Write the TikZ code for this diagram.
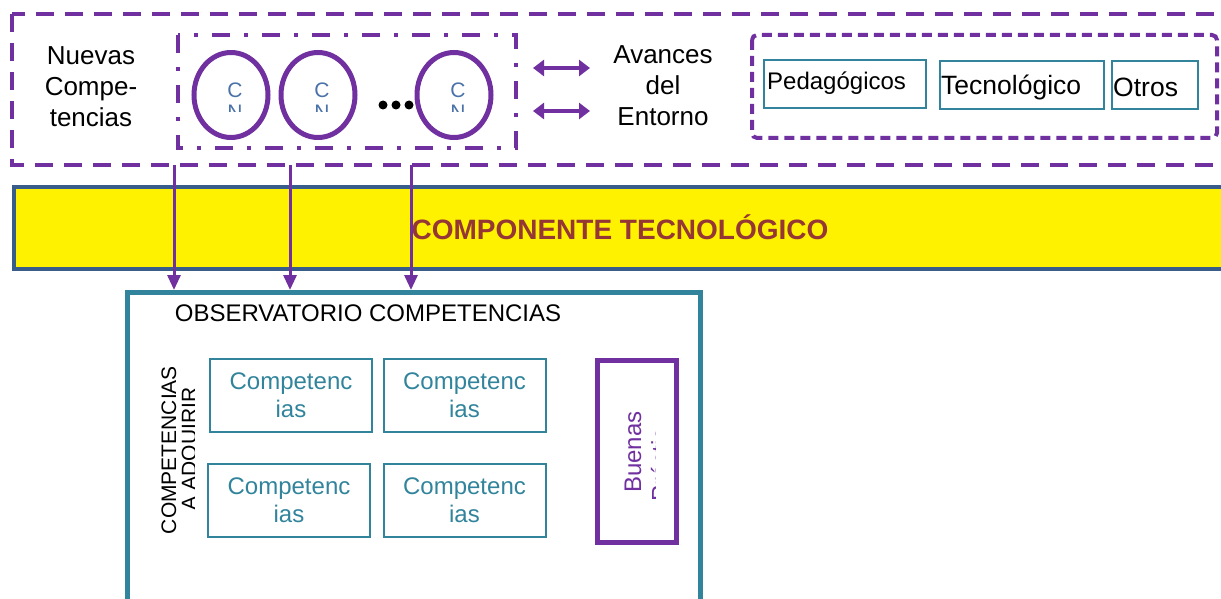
\documentclass[tikz,border=0pt]{standalone}
\usepackage{fontspec}
\setmainfont{Liberation Sans}
\usetikzlibrary{arrows.meta,shapes.geometric}
\definecolor{morado}{HTML}{7030A0}
\definecolor{verdeazul}{HTML}{31849B}
\definecolor{azulosc}{HTML}{385D8A}
\definecolor{rojizo}{HTML}{953735}
\definecolor{azulcn}{HTML}{4A72A8}

\begin{document}
\begin{tikzpicture}[x=1pt, y=-1pt, font=\fontsize{26}{31}\selectfont,
  caja/.style={draw=verdeazul, line width=2pt, inner sep=0pt},
  comp/.style={caja, minimum width=162pt, minimum height=73pt, text=verdeazul,
    align=center, font=\fontsize{24}{28}\selectfont},
  circulo/.style={ellipse, draw=morado, line width=5pt, minimum width=74pt, minimum height=85pt},
  flecha/.style={morado, line width=3pt, -{Triangle[width=13pt,length=15pt]}},
  doble/.style={morado, line width=4pt, {Triangle[width=16pt,length=11pt]}-{Triangle[width=16pt,length=11pt]}}]
  \useasboundingbox (0,0) rectangle (1221,599);
  \clip (0,0) rectangle (1221,599);

  % upper frame
  \draw[morado, line width=4pt, dash pattern=on 18pt off 11pt] (12,14) rectangle (1245,165);
  \node[align=center] (nuevas) at (91,87) {Nuevas\\Compe-\\tencias};
  \draw[morado, line width=4pt, dash pattern=on 18pt off 14pt on 4pt off 14pt] (178,35) rectangle (516,148);

  \foreach \i/\x in {1/231, 2/318, 3/454} {
    \node[circulo] (cn\i) at (\x,95) {};
    \node[text=azulcn, font=\fontsize{21}{24}\selectfont] (c\i) at (\x+4,90) {C};
    \begin{scope}
      \clip (\x-20,100) rectangle (\x+25,112);
      \node[text=azulcn, font=\fontsize{21}{24}\selectfont] (n\i) at (\x+4,112) {N};
    \end{scope}
  }
  \foreach \x in {383,396,409}
    \fill (\x,105) circle (4.5);

  \foreach \i/\y in {1/68, 2/111} {
    \coordinate (da\i) at (533,\y);
    \coordinate (db\i) at (590,\y);
    \draw[doble] (da\i) -- (db\i);
  }
  \node[align=center] (avances) at (663,86) {Avances\\del\\Entorno};

  \draw[morado, line width=4pt, dash pattern=on 10pt off 6pt, rounded corners=5pt] (752,35) rectangle (1217,138);
  \node[caja, minimum width=162pt, minimum height=48pt] (ped) at (845,84) {};
  \node[caja, minimum width=164pt, minimum height=48pt] (tec) at (1022,85) {};
  \node[caja, minimum width=86pt, minimum height=48pt] (otr) at (1155,85) {};
  \node[anchor=west, inner sep=0pt, font=\fontsize{24}{28}\selectfont] at ([xshift=4pt, yshift=1pt]ped.west) {Pedagógicos};
  \node[anchor=west, inner sep=0pt, font=\fontsize{26.5}{31}\selectfont] at ([xshift=2pt, yshift=-2pt]tec.west) {Tecnológico};
  \node[anchor=west, inner sep=0pt, font=\fontsize{26.5}{31}\selectfont] at ([xshift=2pt, yshift=-2pt]otr.west) {Otros};

  % yellow band
  \node[draw=azulosc, line width=4pt, fill=yellow, anchor=north west,
    minimum width=1240pt, minimum height=82pt] (banda) at (12,185) {};
  \node[text=rojizo, font=\bfseries\fontsize{28}{32}\selectfont] (tecno) at (620,227) {COMPONENTE TECNOLÓGICO};

  % observatory
  \node[draw=verdeazul, line width=5pt, anchor=north west, minimum width=573pt,
    minimum height=400pt] (obs) at (125,290) {};
  \node[font=\fontsize{24}{28}\selectfont] (titulo) at (368,313) {OBSERVATORIO COMPETENCIAS};

  \foreach \i/\x in {1/174, 2/290, 3/411} {
    \coordinate (s\i) at (\x,165);
    \draw[flecha] (s\i) -- (s\i |- obs.north);
  }

  \node[rotate=90, font=\fontsize{21}{24}\selectfont] (adq) at (169,450) {COMPETENCIAS};
  \begin{scope}
    \clip (180,370) rectangle (194,530);
    \node[rotate=90, font=\fontsize{21}{24}\selectfont] (adq2) at (191,449) {A ADQUIRIR};
  \end{scope}

  \node[comp] (k1) at (291,395.5) {Competenc\\ias};
  \node[comp] (k2) at (464.5,395.5) {Competenc\\ias};
  \node[comp] (k3) at (289,500.5) {Competenc\\ias};
  \node[comp] (k4) at (464.5,500.5) {Competenc\\ias};

  \node[draw=morado, line width=5pt, minimum width=79pt, minimum height=182pt] (buenas) at (637,451.5) {};
  \node[rotate=90, text=morado, font=\fontsize{24}{28}\selectfont] (bp) at (633,452) {Buenas};
  \begin{scope}
    \clip (645,430) rectangle (655.5,498);
    \node[rotate=90, text=morado, font=\fontsize{24}{28}\selectfont] (bp2) at (660,452) {Prácticas};
  \end{scope}
\end{tikzpicture}
\end{document}
